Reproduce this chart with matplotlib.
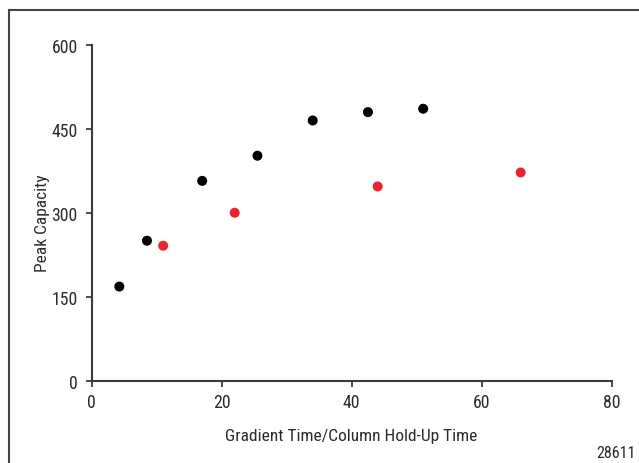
import matplotlib
matplotlib.use('Agg')
import matplotlib.pyplot as plt
from matplotlib.lines import Line2D

plt.rcParams['font.family'] = ['Roboto Condensed', 'DejaVu Sans']

# Peak capacity vs gradient time / column hold-up time
black_x = [4.25, 8.5, 17.0, 25.5, 34.0, 42.5, 51.0]
black_y = [168, 250, 357, 402, 465, 480, 486]

red_x = [11.0, 22.0, 44.0, 66.0]
red_y = [241, 300, 347, 372]

x_ticks = [0, 20, 40, 60, 80]
y_ticks = [0, 150, 300, 450, 600]

axis_color = '#3a3a3a'
text_color = '#2a2a2a'

fig = plt.figure(figsize=(6.39, 4.64), dpi=100)
ax = fig.add_axes([0.1435, 0.1778, 0.8137, 0.7231])

ax.scatter(black_x, black_y, s=52, color='black', edgecolors='none', zorder=3, clip_on=False)
ax.scatter(red_x, red_y, s=52, color='#e8252d', edgecolors='none', zorder=3, clip_on=False)

ax.set_xlim(0, 80)
ax.set_ylim(0, 600)
ax.set_xticks(x_ticks)
ax.set_yticks(y_ticks)

for side in ['top', 'right']:
    ax.spines[side].set_visible(False)
for side in ['left', 'bottom']:
    ax.spines[side].set_color(axis_color)
    ax.spines[side].set_linewidth(1.5)

ax.tick_params(axis='both', direction='out', length=4, width=1.3, color=axis_color,
               labelsize=12.8, labelcolor=text_color)
ax.tick_params(axis='y', pad=6)
ax.tick_params(axis='x', pad=5)

ax.set_xlabel('Gradient Time/Column Hold-Up Time', fontsize=12.5, color=text_color, labelpad=12)
ax.set_ylabel('Peak Capacity', fontsize=12.5, color=text_color)
ax.yaxis.set_label_coords(-0.080, 0.472)

fig.text(0.995, 0.006, '28611', ha='right', va='bottom', fontsize=11.5, color=text_color)

# partial frame around the figure (left and top edges)
frame_x = 9 / 639
frame_y = 1 - 10.5 / 464
fig.add_artist(Line2D([frame_x, frame_x], [-0.05, frame_y], transform=fig.transFigure,
                      color='#444444', linewidth=1.5))
fig.add_artist(Line2D([frame_x, 1.05], [frame_y, frame_y], transform=fig.transFigure,
                      color='#444444', linewidth=1.5))

fig.savefig('out.png', dpi=100)
